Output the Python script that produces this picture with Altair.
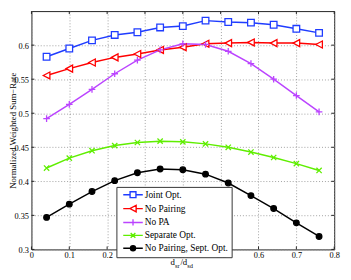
import altair as alt
import pandas as pd

x_vals = [0.04, 0.1, 0.16, 0.22, 0.28, 0.34, 0.4, 0.46, 0.52, 0.58, 0.64, 0.7, 0.76]
joint_opt = [0.583, 0.595, 0.607, 0.615, 0.619, 0.626, 0.628, 0.636, 0.634, 0.633, 0.630, 0.624, 0.618]
no_pairing = [0.5555, 0.5655, 0.5745, 0.582, 0.587, 0.593, 0.597, 0.602, 0.603, 0.604, 0.603, 0.603, 0.601]
no_pa = [0.492, 0.513, 0.535, 0.558, 0.578, 0.593, 0.602, 0.601, 0.591, 0.573, 0.550, 0.526, 0.502]
separate_opt = [0.4195, 0.434, 0.445, 0.4525, 0.457, 0.459, 0.458, 0.455, 0.450, 0.443, 0.435, 0.426, 0.416]
no_pairing_sept = [0.347, 0.3665, 0.385, 0.401, 0.4125, 0.418, 0.417, 0.4105, 0.3975, 0.379, 0.360, 0.339, 0.319]

series_names = ["Joint Opt.", "No Pairing", "No PA", "Separate Opt.", "No Pairing, Sept. Opt."]
series_values = [joint_opt, no_pairing, no_pa, separate_opt, no_pairing_sept]
series_colors = ["#1f3cff", "#ff0000", "#bb44ff", "#5fee00", "#000000"]
series_fills = ["white", "white", "transparent", "transparent", "black"]
marker_paths = [
    "M-1,-1H1V1H-1Z",
    "M-1,0L1,-1.05L1,1.05Z",
    "M-1,0H1M0,-1V1",
    "M-0.8,-0.8L0.8,0.8M-0.8,0.8L0.8,-0.8",
    "M-0.85,0A0.85,0.85,0,1,1,0.85,0A0.85,0.85,0,1,1,-0.85,0Z",
]
legend_paths = [
    "M-2.5,0H-0.75M0.75,0H2.5M-0.75,-0.75H0.75V0.75H-0.75Z",
    "M-2.5,0H-0.8M0.8,0H2.5M-0.8,0L0.8,-0.85L0.8,0.85Z",
    "M-2.5,0H2.5M0,-0.8V0.8",
    "M-2.5,0H2.5M-0.6,-0.6L0.6,0.6M-0.6,0.6L0.6,-0.6",
    "M-2.5,0H2.5M-0.65,0A0.65,0.65,0,1,1,0.65,0A0.65,0.65,0,1,1,-0.65,0Z",
]
x_ticks = [0, 0.1, 0.2, 0.3, 0.4, 0.5, 0.6, 0.7, 0.8]
y_ticks = [0.3, 0.35, 0.4, 0.45, 0.5, 0.55, 0.6]
y_title = "Normalized Weighted Sum\u2212Rate"

rows = []
for name, vals in zip(series_names, series_values):
    for xv, yv in zip(x_vals, vals):
        rows.append({"series": name, "x": xv, "y": yv})
df = pd.DataFrame(rows)

W, H = 310, 244
FONT = "Liberation Serif"

xs = alt.Scale(domain=[0, 0.8], nice=False)
ys = alt.Scale(domain=[0.3, 0.65], nice=False)

xaxis = alt.Axis(values=x_ticks, format="~g", grid=True, gridDash=[1, 2], gridColor="#888",
                 gridWidth=0.8, domain=False, ticks=False, labelFont=FONT, labelFontSize=8.5,
                 labelColor="#000", labelPadding=1.5, title=None, labelFlush=False)
yaxis = alt.Axis(values=y_ticks, format="~g", grid=True, gridDash=[1, 2], gridColor="#888",
                 gridWidth=0.8, domain=False, ticks=False, labelFont=FONT, labelFontSize=8.5,
                 labelColor="#000", labelPadding=3, title=y_title, titleFont=FONT,
                 titleFontSize=9, titleFontWeight="normal", titleColor="#000",
                 titleX=-16.5, titleY=122, titleAngle=270, titleBaseline="alphabetic",
                 titleAlign="center", labelFlush=False)

def X(field):
    return alt.X(field, scale=xs, axis=xaxis)

def Y(field):
    return alt.Y(field, scale=ys, axis=yaxis)

stroke_scale = alt.Scale(domain=series_names, range=series_colors)
fill_scale = alt.Scale(domain=series_names, range=series_fills)

lines = alt.Chart(df).mark_line(strokeWidth=1.5).encode(
    x=X("x:Q"), y=Y("y:Q"),
    stroke=alt.Stroke("series:N", scale=stroke_scale, legend=None),
)

points = alt.Chart(df).mark_point(size=46, strokeWidth=1.3, opacity=1, filled=False).encode(
    x=X("x:Q"), y=Y("y:Q"),
    stroke=alt.Stroke("series:N", scale=stroke_scale, legend=None),
    fill=alt.Fill("series:N", scale=fill_scale, legend=None),
    shape=alt.Shape("series:N", scale=alt.Scale(domain=series_names, range=marker_paths), legend=None),
)

leg = alt.Legend(orient="none", legendX=87, legendY=180, title=None, padding=3,
                 fillColor="white", strokeColor="#333", symbolSize=64, symbolStrokeWidth=1.4,
                 symbolOffset=9, labelOffset=7, rowPadding=1.2, labelFont=FONT,
                 labelFontSize=9.6, labelColor="#000", labelLimit=200)

ghost = alt.Chart(df).transform_filter("datum.x > 5").mark_point(opacity=1, filled=False).encode(
    x=X("x:Q"), y=Y("y:Q"),
    stroke=alt.Stroke("series:N", scale=stroke_scale, legend=leg),
    fill=alt.Fill("series:N", scale=fill_scale, legend=leg),
    shape=alt.Shape("series:N", scale=alt.Scale(domain=series_names, range=legend_paths), legend=leg),
)

xt_df = pd.DataFrame({"t": x_ticks})
yt_df = pd.DataFrame({"t": y_ticks})
tick_style = dict(color="#222", strokeWidth=1)
xt_bottom = alt.Chart(xt_df).mark_rule(**tick_style).encode(x=X("t:Q"), y=alt.value(H), y2=alt.value(H - 3))
xt_top = alt.Chart(xt_df).mark_rule(**tick_style).encode(x=X("t:Q"), y=alt.value(0), y2=alt.value(3))
yt_left = alt.Chart(yt_df).mark_rule(**tick_style).encode(y=Y("t:Q"), x=alt.value(0), x2=alt.value(3))
yt_right = alt.Chart(yt_df).mark_rule(**tick_style).encode(y=Y("t:Q"), x=alt.value(W), x2=alt.value(W - 3))

one = pd.DataFrame({"a": [0]})
def txt(s, px, py, size):
    return alt.Chart(one).mark_text(text=s, font=FONT, fontSize=size, align="left",
                                    baseline="alphabetic", color="#000").encode(
        x=alt.value(px), y=alt.value(py))

title_parts = [
    txt("d", 142.5, 260, 9),
    txt("sr", 147, 263, 6.5),
    txt("/d", 152.5, 260, 9),
    txt("sd", 159.5, 263, 6.5),
]

chart = alt.layer(
    lines, points, ghost, xt_bottom, xt_top, yt_left, yt_right, *title_parts
).resolve_scale(
    stroke="independent", fill="independent", shape="independent"
).properties(
    width=W, height=H,
    padding={"left": 24, "top": 0, "right": 9, "bottom": 22},
    autosize=alt.AutoSizeParams(type="none"),
).configure_view(stroke="#222", strokeWidth=1)

chart.save("out.html", embed_options={"renderer": "svg", "actions": False})
